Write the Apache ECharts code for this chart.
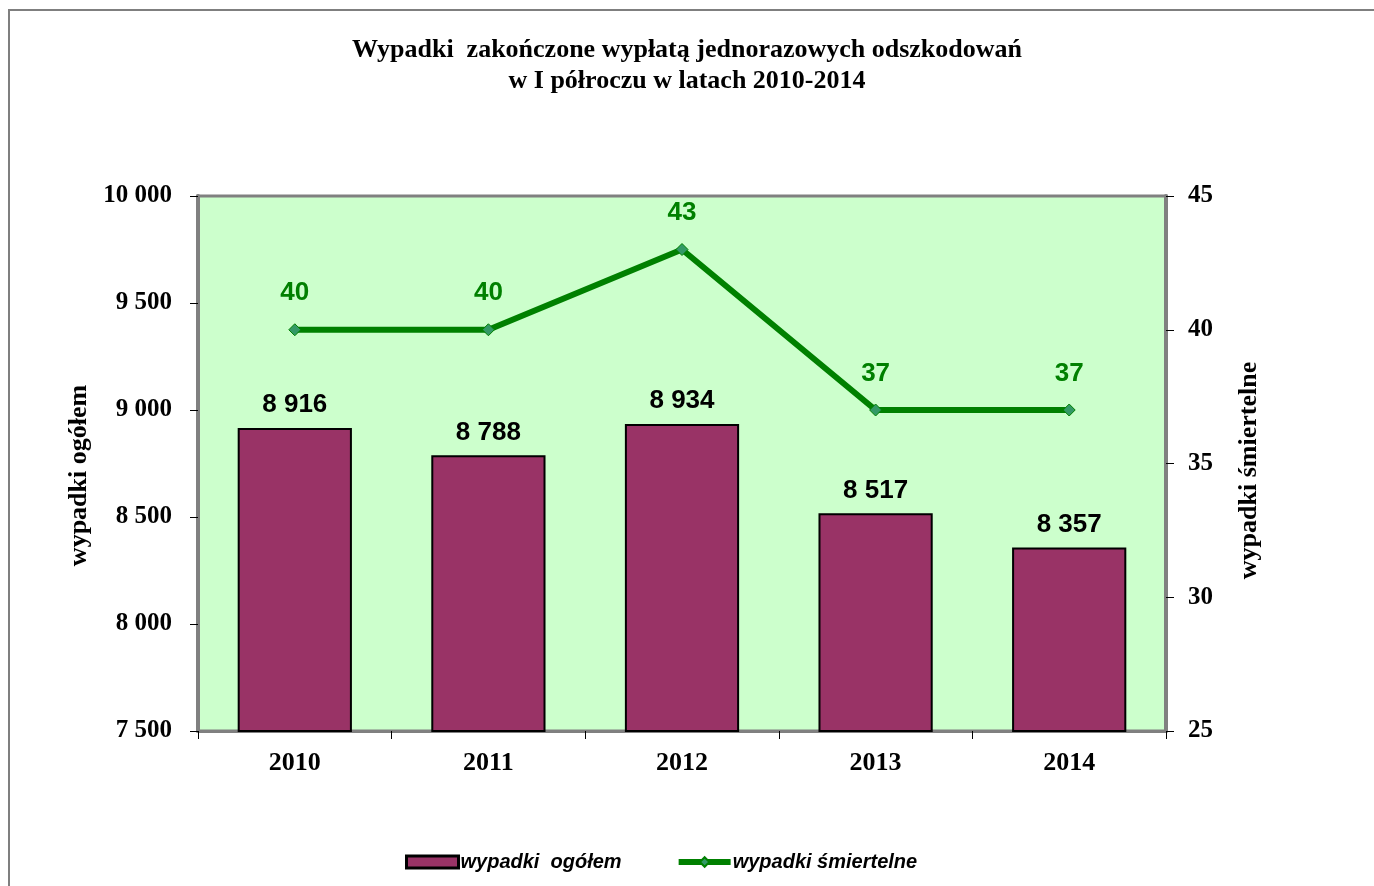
<!DOCTYPE html>
<html>
<head>
<meta charset="utf-8">
<script src="https://cdn.jsdelivr.net/npm/echarts@6/dist/echarts.min.js"></script>
<style>
  html, body { margin: 0; padding: 0; background: #fff; }
  #chart { width: 1374px; height: 886px; }
</style>
</head>
<body>
<div id="chart"></div>
<script>
// dane
var years = ['2010', '2011', '2012', '2013', '2014']
var wypadkiOgolem = [8916, 8788, 8934, 8517, 8357]
var wypadkiSmiertelne = [40, 40, 43, 37, 37]
var leftTicks = [7500, 10000, 500]   // min, max, interval
var rightTicks = [25, 45, 5]

function fmt(v) {
  return String(v).replace(/\B(?=(\d{3})+(?!\d))/g, ' ')
}

var serif = '"Liberation Serif", "Times New Roman", serif'
var sans = '"Liberation Sans", Arial, sans-serif'

var chart = echarts.init(document.getElementById('chart'))

chart.setOption({
  backgroundColor: '#fff',
  animation: false,
  title: {
    text: 'Wypadki  zakończone wypłatą jednorazowych odszkodowań\nw I półroczu w latach 2010-2014',
    left: 'center',
    top: 30,
    textStyle: {
      fontFamily: serif,
      fontWeight: 'bold',
      fontSize: 26,
      lineHeight: 31,
      color: '#000'
    }
  },
  graphic: [{
    type: 'rect',
    shape: { x: 9, y: 10, width: 1400, height: 900 },
    style: { fill: 'none', stroke: '#7f7f7f', lineWidth: 2 },
    silent: true
  }],
  legend: {
    bottom: 9,
    left: 400,
    itemGap: 54,
    itemWidth: 52,
    itemHeight: 12,
    textStyle: {
      fontFamily: sans,
      fontStyle: 'italic',
      fontWeight: 'bold',
      fontSize: 20,
      color: '#000',
      padding: [0, 0, 0, -3]
    },
    data: [
      { name: 'wypadki  ogółem', icon: 'rect', itemStyle: { borderWidth: 3 } },
      { name: 'wypadki śmiertelne', lineStyle: { width: 6 } }
    ]
  },
  grid: {
    left: 198,
    right: 208,
    top: 196,
    bottom: 155,
    show: true,
    backgroundColor: '#ccffcc',
    borderColor: '#808080',
    borderWidth: 3
  },
  xAxis: {
    type: 'category',
    data: years,
    axisLine: { show: true, lineStyle: { color: '#808080', width: 3 } },
    axisTick: { show: true, length: 8, lineStyle: { color: '#000' } },
    axisLabel: {
      fontFamily: serif,
      fontWeight: 'bold',
      fontSize: 26,
      color: '#000',
      margin: 19
    }
  },
  yAxis: [{
    type: 'value',
    min: leftTicks[0],
    max: leftTicks[1],
    interval: leftTicks[2],
    name: 'wypadki ogółem',
    nameLocation: 'middle',
    nameGap: 104,
    nameRotate: 90,
    nameTextStyle: {
      fontFamily: serif,
      fontWeight: 'bold',
      fontSize: 26,
      color: '#000',
      padding: [0, 24, 0, 0]
    },
    splitLine: { show: false },
    axisLine: { show: true, lineStyle: { color: '#808080', width: 4 } },
    axisTick: { show: true, length: 8, lineStyle: { color: '#000' } },
    axisLabel: {
      fontFamily: serif,
      fontWeight: 'bold',
      fontSize: 25,
      color: '#000',
      margin: 26,
      formatter: fmt
    }
  }, {
    type: 'value',
    min: rightTicks[0],
    max: rightTicks[1],
    interval: rightTicks[2],
    name: 'wypadki śmiertelne',
    nameLocation: 'middle',
    nameGap: 70,
    nameRotate: 90,
    nameTextStyle: {
      fontFamily: serif,
      fontWeight: 'bold',
      fontSize: 26,
      color: '#000',
      padding: [0, 14, 0, 0]
    },
    splitLine: { show: false },
    axisLine: { show: true, lineStyle: { color: '#808080', width: 4 } },
    axisTick: { show: true, length: 8, lineStyle: { color: '#000' } },
    axisLabel: {
      fontFamily: serif,
      fontWeight: 'bold',
      fontSize: 25,
      color: '#000',
      margin: 22
    }
  }],
  series: [{
    name: 'wypadki  ogółem',
    type: 'bar',
    yAxisIndex: 0,
    barWidth: '59%',
    data: wypadkiOgolem,
    itemStyle: { color: '#993366', borderColor: '#000', borderWidth: 2 },
    label: {
      show: true,
      position: 'top',
      distance: 10,
      formatter: function(p) { return fmt(p.value) },
      fontFamily: sans,
      fontWeight: 'bold',
      fontSize: 26,
      color: '#000'
    }
  }, {
    name: 'wypadki śmiertelne',
    type: 'line',
    yAxisIndex: 1,
    data: wypadkiSmiertelne,
    symbol: 'diamond',
    symbolSize: 12,
    lineStyle: { color: '#008000', width: 6 },
    itemStyle: { color: '#339966', borderColor: '#008000', borderWidth: 1 },
    label: {
      show: true,
      position: 'top',
      distance: 17,
      fontFamily: sans,
      fontWeight: 'bold',
      fontSize: 26,
      color: '#008000'
    },
    z: 5
  }]
})
</script>
</body>
</html>
